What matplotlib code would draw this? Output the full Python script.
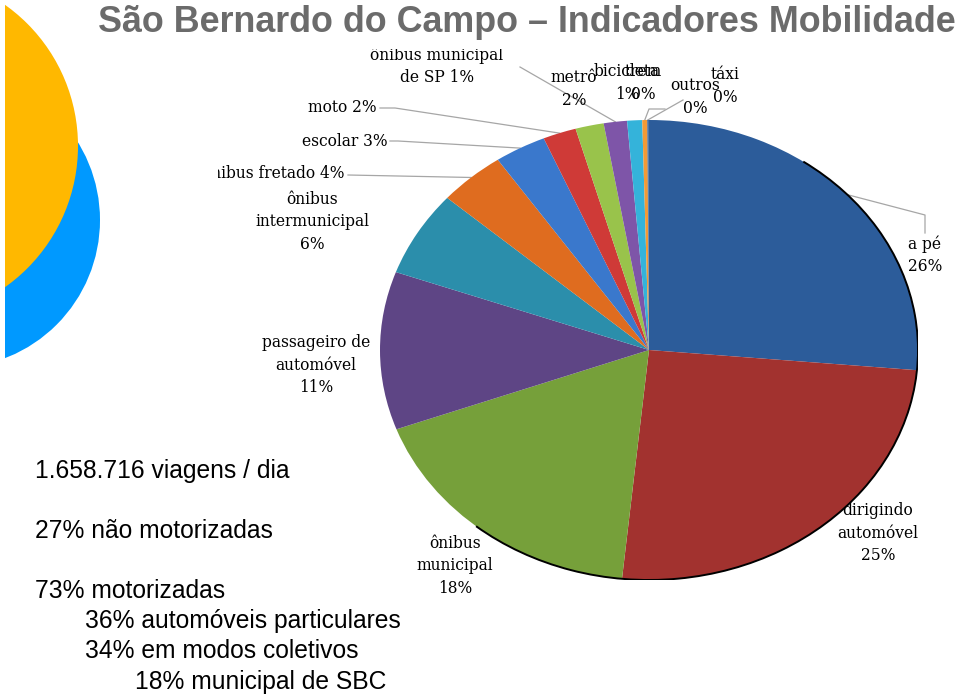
import matplotlib
matplotlib.use('Agg')
import matplotlib.pyplot as plt
import numpy as np
from matplotlib.patches import Circle, Rectangle, Arc

# modes of travel, clockwise from 12 o'clock
modes = ['a pé', 'dirigindo\nautomóvel', 'ônibus\nmunicipal', 'passageiro de\nautomóvel',
         'ônibus\nintermunicipal', 'ônibus fretado', 'escolar', 'moto', 'metrô',
         'ônibus municipal\nde SP', 'bicicleta', 'trem', 'outros', 'táxi']
shares = [26.4, 25.2, 17.8, 11.1, 6.0, 4.0, 3.1, 2.0, 1.7, 1.4, 0.9, 0.3, 0.05, 0.05]
colors = ['#2c5c9a', '#a2322f', '#76a03a', '#5e4585', '#2b8eab', '#df6c1f', '#3a78cc',
          '#cf3a37', '#99c34b', '#7e55a8', '#34b3da', '#f39a35', '#2c5c9a', '#2c5c9a']

summary = ['1.658.716 viagens / dia', '27% não motorizadas', '73% motorizadas',
           '36% automóveis particulares', '34% em modos coletivos', '18% municipal de SBC']
title = 'São Bernardo do Campo – Indicadores Mobilidade'

W, H = 960, 697
fig = plt.figure(figsize=(W / 100, H / 100), dpi=100)

# background layer in pixel coordinates
bg = fig.add_axes([5 / W, 0, 1 - 5 / W, 1])
bg.set_xlim(5, W)
bg.set_ylim(H, 0)
bg.axis('off')
bg.add_patch(Circle((-48, 220), 148, color='#0099ff', lw=0))
bg.add_patch(Circle((-95, 146), 173, color='#ffb800', lw=0))

# pie (elliptical)
cx, cy, rx, ry = 649, 350, 269, 230
ax = fig.add_axes([(cx - rx) / W, (H - cy - ry) / H, 2 * rx / W, 2 * ry / H])
wedges, _ = ax.pie(shares, colors=colors, startangle=90, counterclock=False,
                   radius=1, wedgeprops=dict(linewidth=0))
ax.set_aspect('auto')
ax.set_xlim(-1, 1)
ax.set_ylim(-1, 1)
ax.add_patch(Arc((0, 0), 2.0, 2.0, theta1=-130, theta2=55, color='black', lw=1.4))

# the chart frame cuts off labels that run past it
clip = Rectangle((218, 49), W - 218, H - 49, transform=bg.transData, visible=False)
bg.add_patch(clip)

lab_font = dict(family='DejaVu Serif', fontsize=11.2, color='black', linespacing=1.4)
# label placement: (x, y, ha)
lab_pos = {0: (925, 255, 'center'), 1: (878, 533, 'center'), 2: (455, 566, 'center'),
           3: (316, 365, 'center'), 4: (312, 222, 'center'), 5: (345, 173, 'right'),
           6: (388, 141, 'right'), 7: (377, 108, 'right'), 8: (574, 89, 'center'),
           9: (437, 66, 'center'), 10: (627, 83, 'center'), 11: (643, 83, 'center'),
           12: (695, 97, 'center'), 13: (725, 86, 'center')}
for i, (x, y, ha) in lab_pos.items():
    pct = f'{shares[i]:.0f}%'
    name = modes[i]
    if i in (5, 6, 7, 9):
        txt = f'{name} {pct}'
    else:
        txt = f'{name}\n{pct}'
    t = bg.text(x, y, txt, ha=ha, va='center', multialignment='center', **lab_font)
    t.set_clip_on(True)
    t.set_clip_path(clip)


def anchor(i, frac=0.5):
    w = wedges[i]
    th = np.deg2rad(w.theta1 + frac * (w.theta2 - w.theta1))
    d = ax.transData.transform((np.cos(th), np.sin(th)))
    return bg.transData.inverted().transform(d)


leaders = {0: ([(925, 233), (925, 215)], 0.5), 5: ([(348, 175)], 0.5),
           6: ([(390, 141), (398, 141)], 0.5), 7: ([(380, 108), (395, 108)], 0.5),
           9: ([(520, 67)], 0.5), 11: ([(665, 109), (649, 109)], 0.5),
           12: ([(683, 100)], 0.5)}
for i, (pts, frac) in leaders.items():
    ex, ey = anchor(i, frac)
    xs = [p[0] for p in pts] + [ex]
    ys = [p[1] for p in pts] + [ey]
    bg.plot(xs, ys, color='#a6a6a6', lw=0.9, zorder=1)

# title, sized to span the same width as the original
tt = fig.text(98 / W, 1 - 23 / H, title, ha='left', va='center', fontsize=27,
              fontweight='bold', color='#6b6b6b', family='Liberation Sans')
fig.canvas.draw()
tw = tt.get_window_extent().width
tt.set_fontsize(27 * 858 / tw)

# summary text
sum_pos = [(35, 471), (35, 531), (35, 591), (85, 621), (85, 651), (135, 682)]
for s, (x, y) in zip(summary, sum_pos):
    bg.text(x, y, s, ha='left', va='center', fontsize=17.7, family='Liberation Sans',
            color='black')

fig.savefig('out.png', dpi=100)
